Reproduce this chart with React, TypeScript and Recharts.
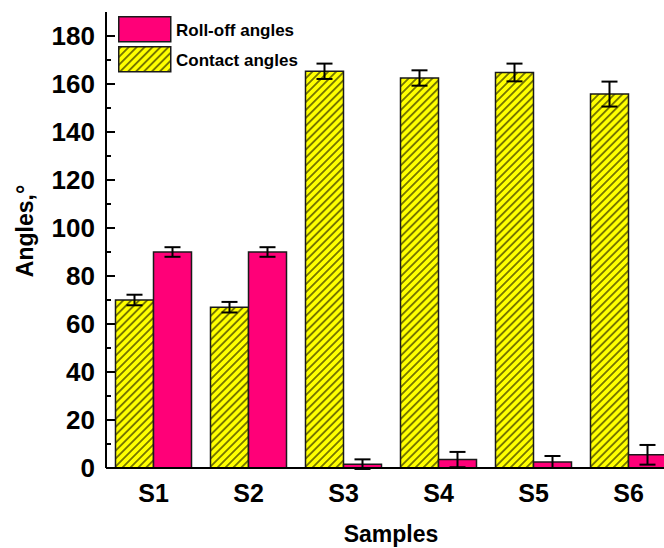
import React from "react";
import {
  BarChart,
  Bar,
  XAxis,
  YAxis,
  ErrorBar,
  Legend,
  ReferenceLine,
} from "recharts";

// Wettability measurements per sample (degrees).
const samples = ["S1", "S2", "S3", "S4", "S5", "S6"];
const contactAngles = [70, 67, 165.3, 162.5, 164.8, 155.8];
const contactErr = [2.2, 2.2, 3.2, 3.2, 3.7, 5.2];
const rollOffAngles = [90, 90, 1.6, 3.5, 2.5, 5.5];
const rollOffErr = [2, 2, 2, 3.2, 2.5, 4.1];

// Labelled ticks every 20°, unlabelled minor ticks in between.
const majorTicks = [0, 20, 40, 60, 80, 100, 120, 140, 160, 180];
const minorTicks = [10, 30, 50, 70, 90, 110, 130, 150, 170];
const Y_DOMAIN: [number, number] = [0, 190];

const data = samples.map((s, i) => ({
  sample: s,
  contact: contactAngles[i],
  contactErr: contactErr[i],
  rollOff: rollOffAngles[i],
  rollOffErr: rollOffErr[i],
}));

const FONT = '"Liberation Sans", Arial, Helvetica, sans-serif';
const PINK = "#ff0078";
const YELLOW = "#ffff00";
const EDGE = "#1a1a1a";

function YTick(props: any) {
  return (
    <text x={Number(props.x)} y={Number(props.y)} dy="0.36em" textAnchor="end" fontFamily={FONT} fontWeight="bold" fontSize={26} fill="#000">
      {props.payload.value}
    </text>
  );
}

function XTick(props: any) {
  return (
    <text x={Number(props.x)} y={Number(props.y) + 34} textAnchor="middle" fontFamily={FONT} fontWeight="bold" fontSize={25} fill="#000">
      {props.payload.value}
    </text>
  );
}

// Short stub from the left spine into the plot, in place of a full reference line.
function TickStub(props: any) {
  const len = props.len ?? 9;
  const x1 = Number(props.x1);
  const x2 = Number(props.x2);
  const y = Number(props.y1);
  const left = Math.min(x1, x2);
  return <line x1={left} x2={left + len} y1={y} y2={y} stroke="#000" strokeWidth={2} />;
}

function XTitle(props: any) {
  const vb = props.viewBox || { x: 106, y: 468, width: 570, height: 80 };
  return (
    <text x={vb.x + vb.width / 2} y={vb.y + 74} textAnchor="middle" fontFamily={FONT} fontWeight="bold" fontSize={23} fill="#000">
      Samples
    </text>
  );
}

function YTitle(props: any) {
  const vb = props.viewBox || { x: 0, y: 12, width: 106, height: 456 };
  const cx = vb.x + 33;
  const cy = vb.y + vb.height / 2 - 9;
  return (
    <text
      x={cx}
      y={cy}
      transform={`rotate(-90 ${cx} ${cy})`}
      textAnchor="middle"
      fontFamily={FONT}
      fontWeight="bold"
      fontSize={23}
      fill="#000"
    >
      Angles,°
    </text>
  );
}

// Legend lists roll-off first, even though it is the second bar in each group.
const legendItems = [
  { name: "Roll-off angles", fill: PINK },
  { name: "Contact angles", fill: "url(#hatch)" },
];

function AngleLegend() {
  return (
    <svg width={200} height={58} style={{ display: "block", overflow: "visible" }}>
      {legendItems.map((item, i) => (
        <g key={item.name} transform={`translate(0 ${i * 30})`}>
          <rect x={0.75} y={0.75} width={52} height={25} fill={item.fill} stroke={EDGE} strokeWidth={1.5} />
          <text x={58} y={20} fontFamily={FONT} fontWeight="bold" fontSize={17} fill="#000">
            {item.name}
          </text>
        </g>
      ))}
    </svg>
  );
}

export default function App() {
  return (
    <div
      style={{
        position: "absolute",
        left: 0,
        top: 0,
        width: 664,
        height: 548,
        overflow: "hidden",
        background: "#fff",
      }}
    >
      <BarChart
        width={690}
        height={548}
        data={data}
        margin={{ top: 12, right: 14, bottom: 0, left: 0 }}
        barCategoryGap="10%"
        barGap={0}
      >
        <defs>
          <pattern id="hatch" patternUnits="userSpaceOnUse" width={5.6} height={5.6} patternTransform="rotate(45)">
            <rect width={5.6} height={5.6} fill={YELLOW} />
            <line x1={2.8} y1={0} x2={2.8} y2={5.6} stroke="#000" strokeWidth={1} />
          </pattern>
        </defs>
        <XAxis
          dataKey="sample"
          height={80}
          tickLine={false}
          tickSize={0}
          tickMargin={0}
          tick={<XTick />}
          axisLine={{ stroke: "#000", strokeWidth: 2 }}
          label={<XTitle />}
        />
        <XAxis
          xAxisId="top"
          orientation="top"
          dataKey="sample"
          height={0}
          tick={false}
          tickLine={false}
          axisLine={{ stroke: "#000", strokeWidth: 2 }}
        />
        <YAxis
          width={106}
          domain={Y_DOMAIN}
          ticks={majorTicks}
          interval={0}
          allowDataOverflow
          tickLine={false}
          tickSize={0}
          tickMargin={11}
          tick={<YTick />}
          axisLine={{ stroke: "#000", strokeWidth: 2 }}
          label={<YTitle />}
        />
        <Legend
          layout="vertical"
          align="center"
          verticalAlign="middle"
          content={<AngleLegend />}
          wrapperStyle={{ left: 118, top: 16, width: 200, height: 58 }}
        />
        <Bar dataKey="contact" name="Contact angles" fill="url(#hatch)" stroke={EDGE} strokeWidth={1.5} isAnimationActive={false}>
          <ErrorBar dataKey="contactErr" width={8} stroke="#000" strokeWidth={2} />
        </Bar>
        <Bar dataKey="rollOff" name="Roll-off angles" fill={PINK} stroke={EDGE} strokeWidth={1.5} isAnimationActive={false}>
          <ErrorBar dataKey="rollOffErr" width={8} stroke="#000" strokeWidth={2} />
        </Bar>
        {/* inward tick marks on the left spine */}
        {majorTicks.map((v) => (
          <ReferenceLine key={`maj-${v}`} y={v} ifOverflow="visible" shape={<TickStub len={9} />} />
        ))}
        {minorTicks.map((v) => (
          <ReferenceLine key={`min-${v}`} y={v} ifOverflow="visible" shape={<TickStub len={5} />} />
        ))}
      </BarChart>
    </div>
  );
}
